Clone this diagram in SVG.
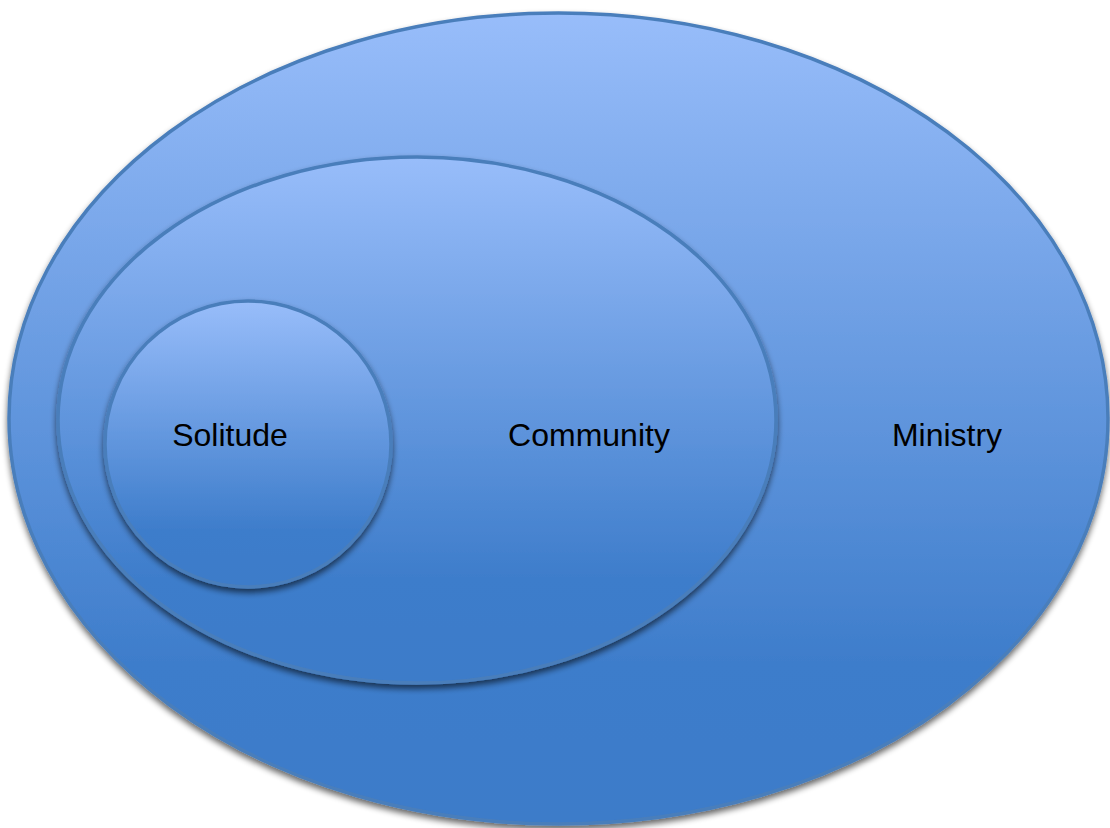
<svg xmlns="http://www.w3.org/2000/svg" width="1110" height="828" viewBox="0 0 1110 828">
<defs>
<linearGradient id="g" x1="0" y1="0" x2="0" y2="1">
<stop offset="0" stop-color="#98BDFA"/>
<stop offset="0.8" stop-color="#3E7DCB"/>
<stop offset="1" stop-color="#3C7BC9"/>
</linearGradient>
<filter id="sh" x="-10%" y="-10%" width="120%" height="120%">
<feGaussianBlur in="SourceAlpha" stdDeviation="3"/>
<feOffset dx="0" dy="4" result="b"/>
<feComponentTransfer><feFuncA type="linear" slope="0.6"/></feComponentTransfer>
<feMerge><feMergeNode/><feMergeNode in="SourceGraphic"/></feMerge>
</filter>
<style>
.s{fill:url(#g);stroke:#4A7EBB;stroke-width:3.5;filter:url(#sh)}
.t{font-family:"Liberation Sans",Arial,sans-serif;font-size:32px;fill:#000;text-anchor:middle}
</style>
</defs>
<rect width="1110" height="828" fill="#fff"/>
<g id="ministry">
<ellipse class="s" cx="558.5" cy="418.5" rx="549.5" ry="405.5"/>
<text class="t" x="947" y="446">Ministry</text>
</g>
<g id="community">
<ellipse class="s" cx="417" cy="420" rx="359" ry="263"/>
<text class="t" x="589" y="446">Community</text>
</g>
<g id="solitude">
<ellipse class="s" cx="248" cy="444" rx="143" ry="143"/>
<text class="t" x="230" y="446">Solitude</text>
</g>
<g id="connectors"/>
</svg>
